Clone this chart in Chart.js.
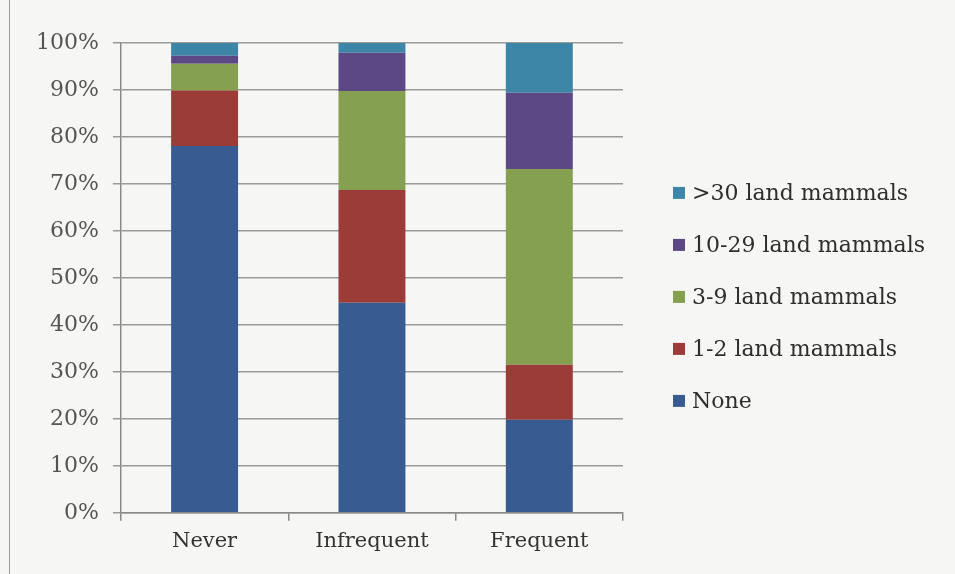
<!DOCTYPE html>
<html>
<head>
<meta charset="utf-8">
<script src="https://cdn.jsdelivr.net/npm/chart.js@4/dist/chart.umd.min.js"></script>
<style>
  body { margin: 0; background: #f6f6f4; }
  .wrap { width: 955px; height: 574px; position: relative; }
  .frame { position: absolute; left: 9px; top: 0; width: 1px; height: 574px; background: #9a9a9a; }
  canvas { position: absolute; left: 0; top: 0; }
</style>
</head>
<body>
<div class="wrap">
  <div class="frame"></div>
  <canvas id="myChart" width="955" height="574"></canvas>
</div>
<script>
const categories = ['Never', 'Infrequent', 'Frequent']
const noneData = [78.1, 44.7, 19.8]
const oneToTwoData = [11.8, 24.0, 11.7]
const threeToNineData = [5.7, 21.1, 41.7]
const tenTo29Data = [1.7, 8.1, 16.2]
const over30Data = [2.7, 2.1, 10.6]
const yTicks = [0, 10, 20, 30, 40, 50, 60, 70, 80, 90, 100]

const serif = "'DejaVu Serif', 'Liberation Serif', serif"

// legend drawn by hand so the long labels are not clipped
const sideLegend = {
  id: 'sideLegend',
  afterDraw(chart) {
    const c = chart.ctx
    const area = chart.chartArea
    const sets = chart.data.datasets.slice().reverse()
    const gap = 52
    const startY = (area.top + area.bottom) / 2 + 19 - gap * (sets.length - 1) / 2
    c.save()
    c.font = '22px ' + serif
    c.textBaseline = 'middle'
    sets.forEach((ds, i) => {
      const y = startY + i * gap
      c.fillStyle = ds.backgroundColor
      c.fillRect(area.right + 50, y - 6, 12, 12)
      c.fillStyle = '#2e2e2e'
      c.fillText(ds.label, area.right + 69, y + 1)
    })
    c.restore()
  }
}

const ctx = document.getElementById('myChart').getContext('2d')

const chart = new Chart(ctx, {
  type: 'bar',
  data: {
    labels: categories,
    datasets: [
      { label: 'None', data: noneData, backgroundColor: 'rgb(56, 92, 146)' },
      { label: '1-2 land mammals', data: oneToTwoData, backgroundColor: 'rgb(156, 60, 56)' },
      { label: '3-9 land mammals', data: threeToNineData, backgroundColor: 'rgb(134, 160, 82)' },
      { label: '10-29 land mammals', data: tenTo29Data, backgroundColor: 'rgb(92, 72, 132)' },
      { label: '>30 land mammals', data: over30Data, backgroundColor: 'rgb(62, 134, 168)' }
    ]
  },
  plugins: [sideLegend],
  options: {
    responsive: false,
    animation: false,
    barPercentage: 0.4,
    categoryPercentage: 1,
    layout: {
      padding: { left: 22, right: 332, top: 43, bottom: 12 }
    },
    plugins: {
      tooltip: { enabled: false },
      legend: { display: false }
    },
    scales: {
      x: {
        stacked: true,
        border: { color: '#8a8a8a', width: 1.5 },
        grid: { offset: true, drawOnChartArea: false, drawTicks: true, tickLength: 8, color: '#8a8a8a', lineWidth: 1.5 },
        ticks: { color: '#333', padding: 8, font: { family: serif, size: 21 } }
      },
      y: {
        stacked: true,
        min: 0,
        max: 100,
        afterBuildTicks: (axis) => { axis.ticks = yTicks.map((v) => ({ value: v })) },
        border: { color: '#8a8a8a', width: 1.5 },
        grid: { color: '#9a9a9a', lineWidth: 1.5, tickLength: 8 },
        ticks: {
          color: '#555',
          padding: 14,
          font: { family: serif, size: 22 },
          callback: (v) => v + '%'
        }
      }
    }
  }
})
</script>
</body>
</html>
